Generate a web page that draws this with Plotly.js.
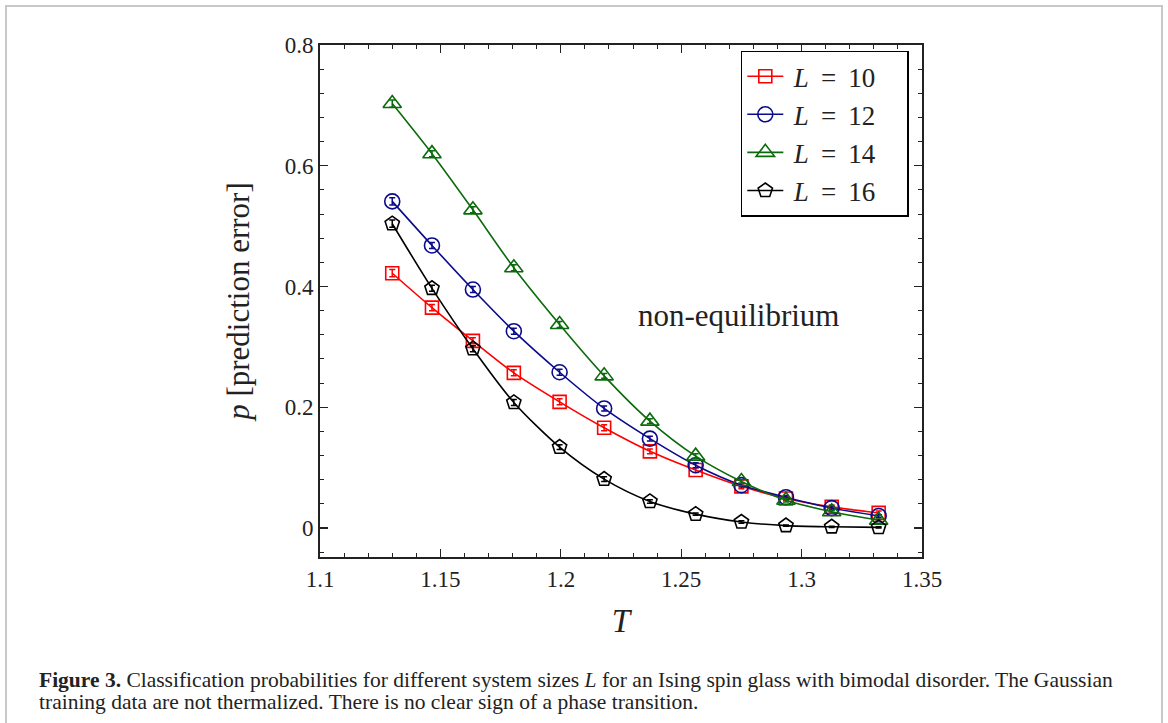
<!DOCTYPE html>
<html>
<head>
<meta charset="utf-8">
<script src="https://cdn.plot.ly/plotly-3.0.1.min.js"></script>
<style>html,body{margin:0;padding:0;background:#fff;}#chart{width:1168px;height:723px;}</style>
</head>
<body>
<div id="chart"></div>
<script>
// Temperatures
const T = [1.130, 1.1465, 1.1635, 1.1805, 1.1995, 1.218, 1.237, 1.256, 1.275, 1.2935, 1.3125, 1.332];
// Prediction error p for each system size
const pL10 = [0.422, 0.365, 0.310, 0.257, 0.209, 0.166, 0.127, 0.096, 0.069, 0.049, 0.035, 0.025];
const pL12 = [0.541, 0.468, 0.395, 0.326, 0.258, 0.198, 0.148, 0.104, 0.071, 0.051, 0.033, 0.020];
const pL14 = [0.703, 0.620, 0.527, 0.431, 0.337, 0.252, 0.177, 0.119, 0.077, 0.046, 0.027, 0.013];
const pL16 = [0.504, 0.397, 0.297, 0.208, 0.134, 0.081, 0.044, 0.023, 0.010, 0.004, 0.002, 0.001];
// Error bars (small)
const eL10 = [0.006, 0.005, 0.005, 0.005, 0.005, 0.005, 0.004, 0.004, 0.004, 0.003, 0.003, 0.003];
const eL12 = [0.006, 0.005, 0.005, 0.005, 0.005, 0.004, 0.004, 0.004, 0.003, 0.003, 0.003, 0.002];
const eL14 = [0.006, 0.005, 0.005, 0.005, 0.005, 0.004, 0.004, 0.004, 0.003, 0.003, 0.002, 0.002];
const eL16 = [0.006, 0.005, 0.005, 0.005, 0.004, 0.004, 0.003, 0.002, 0.002, 0.001, 0.001, 0.001];
const seriesNames = ['\u2009<i>L</i>\u2009 = \u200910\u2003', '\u2009<i>L</i>\u2009 = \u200912\u2003', '\u2009<i>L</i>\u2009 = \u200914\u2003', '\u2009<i>L</i>\u2009 = \u200916\u2003'];
const xTicks = [1.1, 1.15, 1.2, 1.25, 1.3, 1.35];
const yTicks = [0, 0.2, 0.4, 0.6, 0.8];
const captionLines = [
  '<b>Figure 3.</b> Classification probabilities for different system sizes <i>L</i> for an Ising spin glass with bimodal disorder. The Gaussian',
  'training data are not thermalized. There is no clear sign of a phase transition.'
];

const FONT = 'Liberation Serif, DejaVu Serif, serif';
const styles = [
  {color: '#ff0000', symbol: 'square-open', size: 13},
  {color: '#0a0a8c', symbol: 'circle-open', size: 15},
  {color: '#0b6a0b', symbol: 'triangle-up-open', size: 16},
  {color: '#000000', symbol: 'pentagon-open', size: 15}
];
const ys = [pL10, pL12, pL14, pL16];
const es = [eL10, eL12, eL14, eL16];

const traces = ys.map((y, i) => ({
  x: T, y: y, name: seriesNames[i], type: 'scatter', mode: 'lines+markers',
  line: {color: styles[i].color, width: 1.6, shape: 'spline', smoothing: 0.8},
  marker: {symbol: styles[i].symbol, size: styles[i].size, color: styles[i].color,
           line: {color: styles[i].color, width: 1.6}},
  error_y: {type: 'data', array: es[i], visible: true, color: styles[i].color, thickness: 1.5, width: 3}
}));

const captionAnnotations = captionLines.map((t, i) => ({
  text: t, xref: 'paper', yref: 'paper', x: (37 - 320) / 602, y: (557 - (680 + 22 * i)) / 512,
  xanchor: 'left', yanchor: 'middle', align: 'left', showarrow: false,
  font: {family: FONT, size: 21.5, color: '#222'}
}));

const layout = {
  width: 1168, height: 723,
  margin: {l: 320, r: 246, t: 45, b: 166},
  paper_bgcolor: '#ffffff', plot_bgcolor: '#ffffff',
  font: {family: FONT, color: '#222'},
  showlegend: true,
  legend: {
    x: 0.699, y: 0.989, xanchor: 'left', yanchor: 'top',
    bgcolor: '#ffffff', bordercolor: '#000', borderwidth: 1.5,
    font: {family: FONT, size: 27, color: '#222'},
    itemwidth: 36
  },
  xaxis: {
    range: [1.1, 1.35], tickvals: xTicks, ticktext: xTicks.map(String),
    ticks: 'inside', ticklen: 8, tickwidth: 1.2, tickcolor: '#222',
    minor: {dtick: 0.01, tick0: 1.1, ticks: 'inside', ticklen: 4, tickwidth: 1, tickcolor: '#222'},
    showline: true, linecolor: '#222', linewidth: 2, mirror: 'allticks',
    showgrid: false, zeroline: false,
    tickfont: {family: FONT, size: 23, color: '#222'},
    title: {text: '<i>T</i>', font: {family: FONT, size: 33, color: '#222'}, standoff: 18}
  },
  yaxis: {
    range: [-0.048, 0.8], tickvals: yTicks, ticktext: yTicks.map(String),
    ticks: 'inside', ticklen: 8, tickwidth: 1.2, tickcolor: '#222',
    minor: {dtick: 0.04, tick0: 0, ticks: 'inside', ticklen: 4, tickwidth: 1, tickcolor: '#222'},
    showline: true, linecolor: '#222', linewidth: 2, mirror: 'allticks',
    showgrid: false, zeroline: false,
    tickfont: {family: FONT, size: 23, color: '#222'},
    title: {text: '<i>p</i> [prediction error]', font: {family: FONT, size: 31, color: '#222'}, standoff: 26}
  },
  annotations: [
    {text: 'non-equilibrium', xref: 'paper', yref: 'paper', x: (738 - 320) / 602, y: (557 - 315) / 512,
     xanchor: 'center', yanchor: 'middle', showarrow: false,
     font: {family: FONT, size: 31, color: '#222'}}
  ].concat(captionAnnotations),
  shapes: [
    {type: 'rect', xref: 'paper', yref: 'paper',
     x0: (6 - 320) / 602, x1: (1162 - 320) / 602, y0: (557 - 730) / 512, y1: (557 - 6) / 512,
     line: {color: '#c8c8c8', width: 2}, fillcolor: 'rgba(0,0,0,0)', layer: 'below'}
  ]
};

Plotly.newPlot('chart', traces, layout, {staticPlot: true, displayModeBar: false});
</script>
</body>
</html>
